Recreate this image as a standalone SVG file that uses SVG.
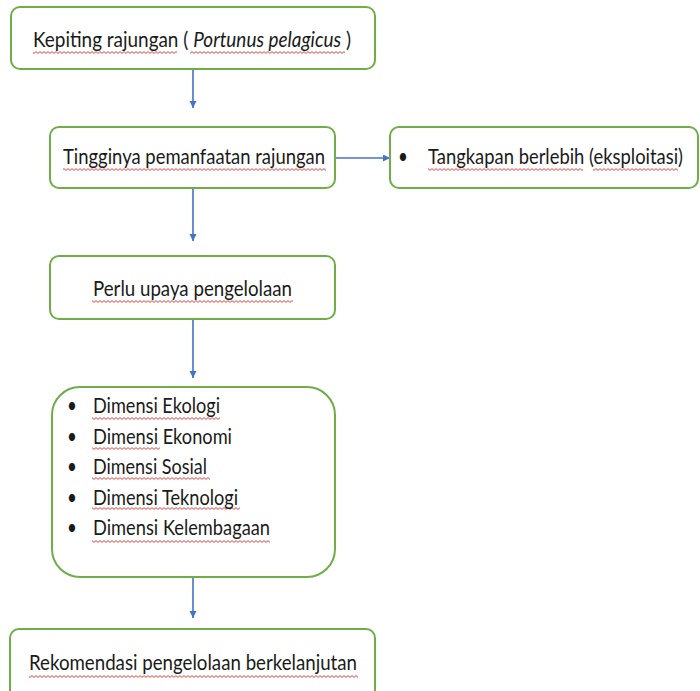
<svg xmlns="http://www.w3.org/2000/svg" width="700" height="691" viewBox="0 0 700 691">
<style>
.box{fill:#fff;stroke:#70AD47;stroke-width:2}
.t{font-family:Lato,"Open Sans","Liberation Sans",sans-serif;font-size:17px;fill:#1a1a1a}
.i{font-style:italic}
.c{stroke:#4472C4;stroke-width:1.6;fill:none;marker-end:url(#ah)}
.sq{fill:url(#zig)}
</style>
<defs>
<marker id="ah" markerUnits="userSpaceOnUse" markerWidth="8" markerHeight="8" refX="7" refY="3.5" orient="auto">
<path d="M0,0 L7,3.5 L0,7 z" fill="#4472C4"/>
</marker>
<pattern id="zig" patternUnits="userSpaceOnUse" x="0" y="0" width="4" height="3">
<path d="M0,0.6 L2,2.4 L4,0.6" fill="none" stroke="#E02A2A" stroke-width="0.9"/>
</pattern>
</defs>
<rect width="700" height="691" fill="#fff"/>
<g id="connectors">
<line class="c" x1="193" y1="69" x2="193" y2="108"/>
<line class="c" x1="193" y1="189" x2="193" y2="241"/>
<line class="c" x1="193" y1="320" x2="193" y2="378"/>
<line class="c" x1="193" y1="577" x2="193" y2="618"/>
<line class="c" x1="336" y1="158" x2="390" y2="158"/>
</g>
<g id="node-kepiting">
<rect class="box" x="11" y="7" width="364" height="62" rx="9"/>
<rect class="sq" x="33" y="51" width="144" height="3"/>
<rect class="sq" x="190" y="51" width="155" height="3"/>
<text class="t" transform="translate(33,47) scale(1,1.28)" textLength="318" lengthAdjust="spacingAndGlyphs">Kepiting rajungan ( <tspan class="i">Portunus pelagicus</tspan> )</text>
</g>
<g id="node-tingginya">
<rect class="box" x="50" y="127" width="285" height="61" rx="9"/>
<rect class="sq" x="63" y="168" width="263" height="3"/>
<text class="t" transform="translate(63,164) scale(1,1.28)" textLength="262" lengthAdjust="spacingAndGlyphs">Tingginya pemanfaatan rajungan</text>
</g>
<g id="node-tangkapan">
<rect class="box" x="390" y="127" width="308" height="61" rx="9"/>
<rect class="sq" x="428" y="168" width="155" height="3"/>
<rect class="sq" x="593" y="168" width="85" height="3"/>
<text class="t" transform="translate(403,164) scale(1,1.28)" text-anchor="middle">•</text>
<text class="t" transform="translate(428,164) scale(1,1.28)" textLength="255" lengthAdjust="spacingAndGlyphs">Tangkapan berlebih (eksploitasi)</text>
</g>
<g id="node-perlu">
<rect class="box" x="50" y="256" width="285" height="63" rx="9"/>
<rect class="sq" x="92" y="300" width="201" height="3"/>
<text class="t" transform="translate(93,296) scale(1,1.28)" textLength="199" lengthAdjust="spacingAndGlyphs">Perlu upaya pengelolaan</text>
</g>
<g id="node-dimensi">
<rect class="box" x="52" y="387" width="283" height="190" rx="28"/>
<rect class="sq" x="92" y="417" width="128" height="3"/>
<rect class="sq" x="92" y="447" width="68" height="3"/>
<rect class="sq" x="92" y="477" width="118" height="3"/>
<rect class="sq" x="92" y="507" width="148" height="3"/>
<rect class="sq" x="92" y="540" width="178" height="3"/>
<text class="t" transform="translate(72,413) scale(1,1.28)" text-anchor="middle">•</text>
<text class="t" transform="translate(72,443.5) scale(1,1.28)" text-anchor="middle">•</text>
<text class="t" transform="translate(72,474) scale(1,1.28)" text-anchor="middle">•</text>
<text class="t" transform="translate(72,504.5) scale(1,1.28)" text-anchor="middle">•</text>
<text class="t" transform="translate(72,535) scale(1,1.28)" text-anchor="middle">•</text>
<text class="t" transform="translate(93,413) scale(1,1.28)" textLength="127" lengthAdjust="spacingAndGlyphs">Dimensi Ekologi</text>
<text class="t" transform="translate(93,443.5) scale(1,1.28)" textLength="139" lengthAdjust="spacingAndGlyphs">Dimensi Ekonomi</text>
<text class="t" transform="translate(93,474) scale(1,1.28)" textLength="114" lengthAdjust="spacingAndGlyphs">Dimensi Sosial</text>
<text class="t" transform="translate(93,504.5) scale(1,1.28)" textLength="145" lengthAdjust="spacingAndGlyphs">Dimensi Teknologi</text>
<text class="t" transform="translate(93,535) scale(1,1.28)" textLength="177" lengthAdjust="spacingAndGlyphs">Dimensi Kelembagaan</text>
</g>
<g id="node-rekomendasi">
<rect class="box" x="10" y="629" width="365" height="75" rx="9"/>
<rect class="sq" x="29" y="675" width="329" height="3"/>
<text class="t" transform="translate(29,670) scale(1,1.28)" textLength="328" lengthAdjust="spacingAndGlyphs">Rekomendasi pengelolaan berkelanjutan</text>
</g>
</svg>
